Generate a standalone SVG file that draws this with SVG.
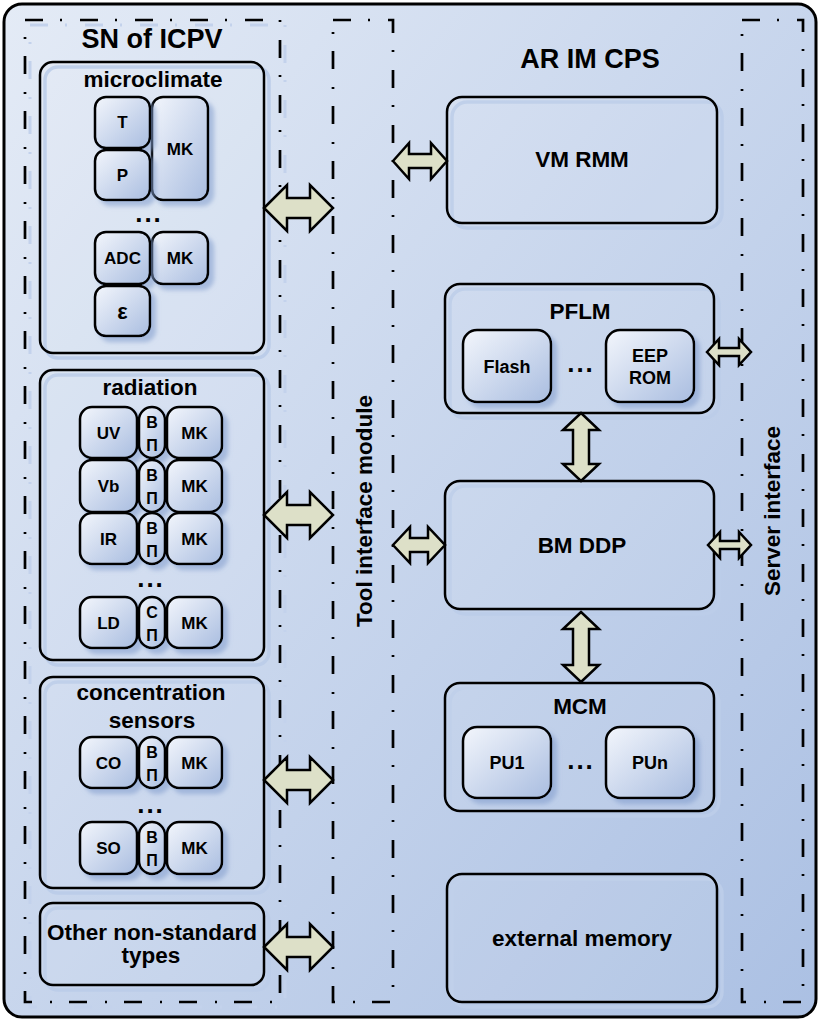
<svg xmlns="http://www.w3.org/2000/svg" width="820" height="1022" viewBox="0 0 820 1022">
<defs>
<linearGradient id="bg" x1="0" y1="0" x2="1" y2="1">
<stop offset="0" stop-color="#e4ebf6"/>
<stop offset="1" stop-color="#abc0e3"/>
</linearGradient>
<linearGradient id="sm" x1="0" y1="0" x2="1" y2="1">
<stop offset="0" stop-color="#f3f6fc"/>
<stop offset="1" stop-color="#a9bde0"/>
</linearGradient>
<filter id="ds" x="-20%" y="-20%" width="150%" height="150%">
<feDropShadow dx="5" dy="5" stdDeviation="2" flood-color="#7f9bcc" flood-opacity="0.55"/>
</filter>
<style>
.dd{fill:none;stroke:#000;stroke-width:2.7;stroke-dasharray:18 17 2 18;}
.dds{fill:none;stroke:#c3d2ec;stroke-width:3;stroke-dasharray:18 17 2 18;}
.sec{fill:#ffffff;fill-opacity:0.07;stroke:#000;stroke-width:2.5;}
.secs{fill:none;stroke:#bccde9;stroke-width:3.5;}
.sb{fill:url(#sm);stroke:#000;stroke-width:2.5;filter:url(#ds);}
.ar{fill:#dde0c8;stroke:#000;stroke-width:2.5;stroke-linejoin:miter;}
text{font-family:"Liberation Sans",Arial,sans-serif;font-weight:bold;fill:#000;text-anchor:middle;}
.t27{font-size:27px;}
.t22{font-size:22.5px;}
.t17{font-size:17px;}
.t16{font-size:16px;}
.t18{font-size:18px;}
.dots{font-size:26px;letter-spacing:2px;}
</style>
</defs>

<g id="background">
<rect x="4" y="4" width="812" height="1013" rx="18" fill="url(#bg)" stroke="#000" stroke-width="3"/>
</g>

<g id="sn-of-icpv">
<rect class="dds" x="30" y="25" width="255" height="982"/>
<rect class="dd" x="25" y="20" width="255" height="982"/>
<text class="t27" x="152" y="48">SN of ICPV</text>
</g>

<g id="tool-interface-module">
<rect class="dd" x="333" y="20" width="60" height="982"/>
<text class="t22" transform="translate(372,511) rotate(-90)" x="0" y="0">Tool interface module</text>
</g>

<g id="server-interface">
<rect class="dd" x="742" y="20" width="61" height="982"/>
<text class="t22" transform="translate(780,511) rotate(-90)" x="0" y="0">Server interface</text>
</g>

<g id="ar-im-cps">
<text class="t27" x="590" y="68">AR IM CPS</text>
</g>

<g id="microclimate">
<rect class="secs" x="45" y="67" width="224" height="291" rx="13"/>
<rect class="sec" x="40" y="62" width="224" height="291" rx="13"/>
<text class="t22" x="153" y="87">microclimate</text>
<rect class="sb" x="152" y="97" width="56" height="103" rx="11"/>
<rect class="sb" x="95" y="97" width="55" height="51" rx="11"/>
<rect class="sb" x="95" y="150" width="55" height="50" rx="11"/>
<text class="t17" x="122.5" y="128">T</text>
<text class="t17" x="122.5" y="181">P</text>
<text class="t17" x="180" y="155">MK</text>
<text class="dots" x="149" y="222">...</text>
<rect class="sb" x="152" y="232" width="56" height="52" rx="11"/>
<rect class="sb" x="95" y="232" width="55" height="52" rx="11"/>
<rect class="sb" x="95" y="286" width="55" height="50" rx="11"/>
<text class="t17" x="122.5" y="264">ADC</text>
<text class="t17" x="180" y="264">MK</text>
<text x="122.5" y="319" style="font-size:22px">ε</text>
</g>

<g id="radiation">
<rect class="secs" x="45" y="375" width="224" height="290" rx="13"/>
<rect class="sec" x="40" y="370" width="224" height="290" rx="13"/>
<text class="t22" x="150" y="395">radiation</text>
<rect class="sb" x="80" y="407" width="57" height="51" rx="12"/>
<rect class="sb" x="139" y="407" width="26" height="51" rx="13"/>
<rect class="sb" x="167" y="407" width="55" height="51" rx="12"/>
<text class="t17" x="108.5" y="438.5">UV</text>
<text class="t16" x="152" y="428">В</text>
<text class="t16" x="152" y="451">П</text>
<text class="t17" x="194.5" y="438.5">MK</text>
<rect class="sb" x="80" y="460" width="57" height="52" rx="12"/>
<rect class="sb" x="139" y="460" width="26" height="52" rx="13"/>
<rect class="sb" x="167" y="460" width="55" height="52" rx="12"/>
<text class="t17" x="108.5" y="492">Vb</text>
<text class="t16" x="152" y="481">В</text>
<text class="t16" x="152" y="504">П</text>
<text class="t17" x="194.5" y="492">MK</text>
<rect class="sb" x="80" y="513" width="57" height="51" rx="12"/>
<rect class="sb" x="139" y="513" width="26" height="51" rx="13"/>
<rect class="sb" x="167" y="513" width="55" height="51" rx="12"/>
<text class="t17" x="108.5" y="544.5">IR</text>
<text class="t16" x="152" y="534">В</text>
<text class="t16" x="152" y="557">П</text>
<text class="t17" x="194.5" y="544.5">MK</text>
<text class="dots" x="151" y="587">...</text>
<rect class="sb" x="80" y="597" width="57" height="51" rx="12"/>
<rect class="sb" x="139" y="597" width="26" height="51" rx="13"/>
<rect class="sb" x="167" y="597" width="55" height="51" rx="12"/>
<text class="t17" x="108.5" y="628.5">LD</text>
<text class="t16" x="152" y="618">С</text>
<text class="t16" x="152" y="641">П</text>
<text class="t17" x="194.5" y="628.5">MK</text>
</g>

<g id="concentration-sensors">
<rect class="secs" x="45" y="682" width="224" height="211" rx="13"/>
<rect class="sec" x="40" y="677" width="224" height="211" rx="13"/>
<text class="t22" x="151" y="700">concentration</text>
<text class="t22" x="152" y="728">sensors</text>
<rect class="sb" x="80" y="737" width="57" height="51" rx="12"/>
<rect class="sb" x="139" y="737" width="26" height="51" rx="13"/>
<rect class="sb" x="167" y="737" width="55" height="51" rx="12"/>
<text class="t17" x="108.5" y="768.5">CO</text>
<text class="t16" x="152" y="758">В</text>
<text class="t16" x="152" y="781">П</text>
<text class="t17" x="194.5" y="768.5">MK</text>
<text class="dots" x="151" y="813">...</text>
<rect class="sb" x="80" y="822" width="57" height="52" rx="12"/>
<rect class="sb" x="139" y="822" width="26" height="52" rx="13"/>
<rect class="sb" x="167" y="822" width="55" height="52" rx="12"/>
<text class="t17" x="108.5" y="854">SO</text>
<text class="t16" x="152" y="843">В</text>
<text class="t16" x="152" y="866">П</text>
<text class="t17" x="194.5" y="854">MK</text>
</g>

<g id="other-types">
<rect class="secs" x="45" y="908" width="224" height="82" rx="13"/>
<rect class="sec" x="40" y="903" width="224" height="82" rx="13"/>
<text class="t22" x="152" y="940">Other non-standard</text>
<text class="t22" x="151" y="963">types</text>
</g>

<g id="vm-rmm">
<rect class="secs" x="452" y="102" width="270" height="126" rx="15"/>
<rect class="sec" x="447" y="97" width="270" height="126" rx="15"/>
<text class="t22" x="582" y="167">VM RMM</text>
</g>

<g id="pflm">
<rect class="secs" x="450" y="289" width="269" height="129" rx="15"/>
<rect class="sec" x="445" y="284" width="269" height="129" rx="15"/>
<text class="t22" x="580" y="319">PFLM</text>
<rect class="sb" x="463" y="330" width="88" height="72" rx="14"/>
<text class="t18" x="507" y="373">Flash</text>
<text class="dots" x="581" y="372">...</text>
<rect class="sb" x="606" y="330" width="88" height="72" rx="14"/>
<text class="t18" x="650" y="362">EEP</text>
<text class="t18" x="650" y="384">ROM</text>
</g>

<g id="bm-ddp">
<rect class="secs" x="450" y="486" width="269" height="128" rx="15"/>
<rect class="sec" x="445" y="481" width="269" height="128" rx="15"/>
<text class="t22" x="582" y="553">BM DDP</text>
</g>

<g id="mcm">
<rect class="secs" x="450" y="688" width="269" height="128" rx="15"/>
<rect class="sec" x="445" y="683" width="269" height="128" rx="15"/>
<text class="t22" x="580" y="714">MCM</text>
<rect class="sb" x="463" y="727" width="88" height="71" rx="14"/>
<text class="t18" x="507" y="769">PU1</text>
<text class="dots" x="581" y="769">...</text>
<rect class="sb" x="606" y="727" width="88" height="71" rx="14"/>
<text class="t18" x="650" y="769">PUn</text>
</g>

<g id="external-memory">
<rect class="secs" x="452" y="879" width="270" height="128" rx="15"/>
<rect class="sec" x="447" y="874" width="270" height="128" rx="15"/>
<text class="t22" x="582" y="946">external memory</text>
</g>

<g id="connectors">
<polygon class="ar" points="264,208 287,185 287,198 310,198 310,185 333,208 310,231 310,218 287,218 287,231"/>
<polygon class="ar" points="264,515 287,492 287,505 310,505 310,492 333,515 310,538 310,525 287,525 287,538"/>
<polygon class="ar" points="264,780 287,757 287,770 310,770 310,757 333,780 310,803 310,790 287,790 287,803"/>
<polygon class="ar" points="264,947 287,924 287,937 310,937 310,924 333,947 310,970 310,957 287,957 287,970"/>
<polygon class="ar" points="393,161 409,143 409,154 431,154 431,143 447,161 431,179 431,168 409,168 409,179"/>
<polygon class="ar" points="393,545 410,527 410,538 428,538 428,527 445,545 428,563 428,552 410,552 410,563"/>
<polygon class="ar" points="707,352 719,339 719,348 739,348 739,339 751,352 739,365 739,356 719,356 719,365"/>
<polygon class="ar" points="708,545 720,532 720,541 739,541 739,532 751,545 739,558 739,549 720,549 720,558"/>
<polygon class="ar" points="581,413 599,430 589,430 589,464 599,464 581,481 563,464 573,464 573,430 563,430"/>
<polygon class="ar" points="581,612 599,629 589,629 589,665 599,665 581,682 563,665 573,665 573,629 563,629"/>
</g>
</svg>
